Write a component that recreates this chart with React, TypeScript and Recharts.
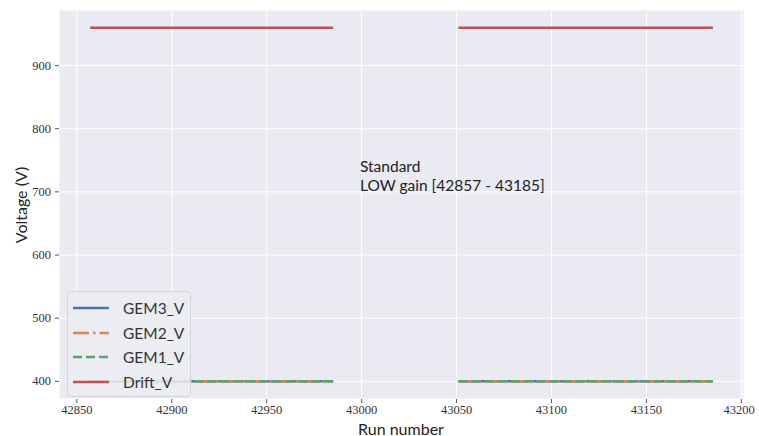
import { LineChart, Line, XAxis, YAxis, CartesianGrid, Legend } from "recharts";

// run numbers; null row breaks the line between the two run blocks
const runs = [42857, 42985, 43018, 43051, 43185];
const gem3V = [400, 400, null, 400, 400];
const gem2V = [400, 400, null, 400, 400];
const gem1V = [400, 400, null, 400, 400];
const driftV = [960, 960, null, 960, 960];

const seriesNames = ["GEM3_V", "GEM2_V", "GEM1_V", "Drift_V"];
const xTicks = [42850, 42900, 42950, 43000, 43050, 43100, 43150, 43200];
const yTicks = [400, 500, 600, 700, 800, 900];

const data = runs.map((r, i) => ({
  run: r,
  GEM3_V: gem3V[i],
  GEM2_V: gem2V[i],
  GEM1_V: gem1V[i],
  Drift_V: driftV[i],
}));

const dashes: Record<string, string | undefined> = {
  GEM3_V: undefined,
  GEM2_V: "16 4 2.5 4",
  GEM1_V: "9 4",
  Drift_V: undefined,
};

const sans = "Lato, 'Open Sans', sans-serif";
const serif = "'Liberation Serif', 'DejaVu Serif', serif";

function LegendBox({ payload }: any) {
  const items = [...(payload || [])].sort(
    (a: any, b: any) => seriesNames.indexOf(a.value) - seriesNames.indexOf(b.value)
  );
  return (
    <div
      style={{
        background: "rgba(236,236,243,0.85)",
        border: "1px solid #d4d4dc",
        borderRadius: 4,
        padding: "4px 6px 2px 5px",
        fontFamily: sans,
        fontSize: 15.5,
        color: "#333",
      }}
    >
      {items.map((p: any) => (
        <div key={p.value} style={{ display: "flex", alignItems: "center", height: 24.5 }}>
          <svg width={36} height={6} style={{ marginRight: 14 }}>
            <line x1={0} y1={3} x2={36} y2={3} stroke={p.color} strokeWidth={2.5} strokeDasharray={dashes[p.value]} />
          </svg>
          <span>{p.value}</span>
        </div>
      ))}
    </div>
  );
}

function XTick({ x, y, payload }: any) {
  return (
    <text x={x} y={y + 9} textAnchor="middle" fill="#333" fontSize={12.5} fontFamily={serif}>
      {payload.value}
    </text>
  );
}

function YTick({ x, y, payload }: any) {
  return (
    <text x={x - 2} y={y + 4} textAnchor="end" fill="#333" fontSize={12.5} fontFamily={serif}>
      {payload.value}
    </text>
  );
}

export default function App() {
  return (
    <div style={{ position: "absolute", left: 0, top: 0, width: 759, height: 436, background: "#fff" }}>
      <LineChart width={759} height={436} data={data} margin={{ top: 10, right: 15, left: 0, bottom: 0 }}>
        <CartesianGrid fill="#EAEAF2" stroke="#fff" strokeWidth={1} horizontal vertical />
        <XAxis
          dataKey="run"
          type="number"
          domain={[42840.6, 43201.4]}
          ticks={xTicks}
          allowDataOverflow
          axisLine={false}
          tickSize={4}
          tickLine={{ stroke: "#555" }}
          tick={XTick}
          height={37}
        />
        <YAxis
          type="number"
          domain={[372, 988]}
          ticks={yTicks}
          allowDataOverflow
          axisLine={false}
          tickSize={4}
          tickLine={{ stroke: "#555" }}
          tick={YTick}
          width={59}
        />
        <Line dataKey="GEM3_V" stroke="#4C72B0" strokeWidth={2.5} dot={false} isAnimationActive={false} />
        <Line dataKey="GEM2_V" stroke="#DD8452" strokeWidth={2.5} strokeDasharray={dashes.GEM2_V} dot={false} isAnimationActive={false} />
        <Line dataKey="GEM1_V" stroke="#55A868" strokeWidth={2.5} strokeDasharray={dashes.GEM1_V} dot={false} isAnimationActive={false} />
        <Line dataKey="Drift_V" stroke="#C44E52" strokeWidth={2.5} dot={false} isAnimationActive={false} />
        <Legend
          layout="vertical"
          align="center"
          verticalAlign="middle"
          content={LegendBox}
          wrapperStyle={{ left: 67, top: 291, width: "auto" }}
        />
      </LineChart>
      <div
        style={{
          position: "absolute",
          left: 360,
          top: 157,
          fontFamily: sans,
          fontSize: 15.5,
          lineHeight: "18.5px",
          color: "#222",
        }}
      >
        Standard
        <br />
        LOW gain [42857 - 43185]
      </div>
      <div
        style={{
          position: "absolute",
          left: 20,
          top: 205,
          transform: "translate(-50%, -50%) rotate(-90deg)",
          fontFamily: sans,
          fontSize: 16,
          color: "#222",
          whiteSpace: "nowrap",
        }}
      >
        Voltage (V)
      </div>
      <div
        style={{
          position: "absolute",
          left: 401,
          top: 428,
          transform: "translate(-50%, -50%)",
          fontFamily: sans,
          fontSize: 16,
          color: "#222",
          whiteSpace: "nowrap",
        }}
      >
        Run number
      </div>
    </div>
  );
}
